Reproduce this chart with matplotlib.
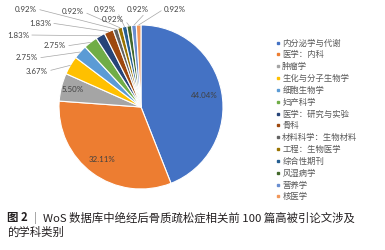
import numpy as np
import matplotlib
matplotlib.use("Agg")
import matplotlib.pyplot as plt
from matplotlib.lines import Line2D

# ---------------------------------------------------------------------
# Data
# ---------------------------------------------------------------------
categories = [
    "内分泌学与代谢", "医学：内科", "肿瘤学", "生化与分子生物学", "细胞生物学",
    "妇产科学", "医学：研究与实验", "骨科", "材料科学：生物材料", "工程：生物医学",
    "综合性期刊", "风湿病学", "营养学", "核医学",
]
shares = [44.04, 32.11, 5.50, 3.67, 2.75, 2.75, 1.83, 1.83,
          0.92, 0.92, 0.92, 0.92, 0.92, 0.92]
colors = [
    "#4472C4", "#ED7D31", "#A5A5A5", "#FFC000", "#5B9BD5", "#70AD47",
    "#264478", "#9E480E", "#636363", "#997300", "#255E91", "#43682B",
    "#698ED0", "#F1975A",
]

# label layout: inside labels (radius fraction), outside labels (figure px from top-left)
inside_r = {0: 0.78, 1: 0.80, 2: 0.86}
outside_pos = {
    3: (37, 71), 4: (27, 58), 5: (55, 46), 6: (18, 35), 7: (40, 23),
    8: (26, 9), 9: (73, 12), 10: (105, 9), 11: (113, 19), 12: (138, 9), 13: (175, 9),
}

W, H = 385, 250
plt.rcParams["font.family"] = ["Noto Sans CJK SC", "DejaVu Sans"]
fig = plt.figure(figsize=(W / 100, H / 100), dpi=100)
fig.patch.set_facecolor("white")

# pie axes: centre (141,107) px, radius 82 px
cx, cy, R = 141, 107, 82
ax = fig.add_axes([(cx - R) / W, (H - cy - R) / H, 2 * R / W, 2 * R / H])
ax.pie(shares, colors=colors, startangle=90, counterclock=False, radius=1,
       wedgeprops=dict(edgecolor="white", linewidth=0.8))
ax.set_xlim(-1, 1)
ax.set_ylim(-1, 1)
ax.axis("off")

vals = np.array(shares)
cum = np.cumsum(vals) / vals.sum()
mid = cum - vals / vals.sum() / 2
theta = np.deg2rad(90 - mid * 360)

lab_kw = dict(fontsize=5.7, color="#404040", family=["Lato", "DejaVu Sans"])
for i, v in enumerate(shares):
    txt = f"{v:.2f}%"
    if i in inside_r:
        r = inside_r[i]
        ax.text(r * np.cos(theta[i]), r * np.sin(theta[i]), txt,
                ha="center", va="center", **lab_kw)
    else:
        px, py = outside_pos[i]
        left = px < cx
        ax.annotate(txt, xy=(np.cos(theta[i]), np.sin(theta[i])),
                    xytext=(px, H - py), textcoords="figure pixels",
                    ha="center", va="center", annotation_clip=False,
                    arrowprops=dict(arrowstyle="-", color="#A6A6A6", lw=0.5,
                                    shrinkA=0, shrinkB=0,
                                    relpos=(1, 0.5) if left else (0, 0.5)),
                    **lab_kw)

# legend
handles = [Line2D([], [], marker="s", linestyle="none", markersize=1.6,
                  markerfacecolor=c, markeredgecolor=c) for c in colors]
fig.legend(handles, categories, loc="upper left",
           bbox_to_anchor=(276 / W, (H - 38.5) / H), frameon=False,
           prop={"size": 6}, labelcolor="#595959",
           handlelength=0.5, handletextpad=0.25, labelspacing=0.34,
           borderpad=0, borderaxespad=0)

# caption
cap_kw = dict(fontsize=8.2, color="#231F20", va="center")
fig.text(7 / W, 1 - 218 / H, "图 2", fontweight="bold", **cap_kw)
fig.text(34 / W, 1 - 218 / H, "|", color="#8C8C8C", fontsize=8.2, va="center")
fig.text(43 / W, 1 - 218 / H, "WoS 数据库中绝经后骨质疏松症相关前 100 篇高被引论文涉及", **cap_kw)
fig.text(7 / W, 1 - 232 / H, "的学科类别", **cap_kw)

fig.savefig("out.png", dpi=100, facecolor="white")
